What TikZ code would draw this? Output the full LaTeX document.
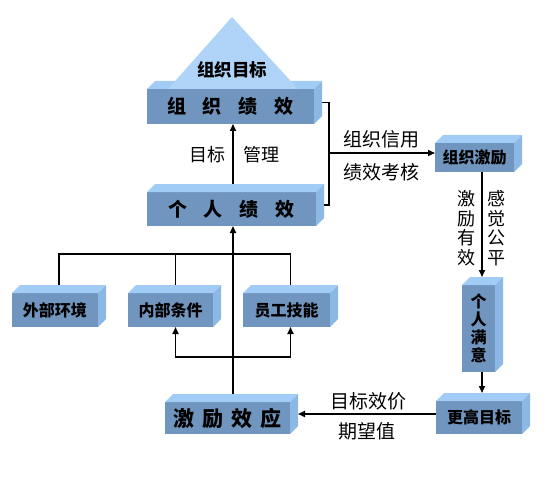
\documentclass[tikz,border=0pt]{standalone}
\usepackage{fontspec}
\setmainfont{Noto Sans CJK SC}
\usetikzlibrary{arrows.meta,backgrounds}
\definecolor{frontc}{RGB}{112,150,192}
\definecolor{topc}{RGB}{160,204,245}
\definecolor{sidec}{RGB}{140,184,230}
\definecolor{tric}{RGB}{176,212,248}
\newcommand\cubebox[7][]{%
  \node[front,#1,minimum width={#5-#3},minimum height={#6-#4}] (#2) at ({(#3+#5)/2},{(#4+#6)/2}) {#7};
  \fill[topc] (#2.north west) -- ++(8pt,8pt) -- ([shift={(8pt,8pt)}]#2.north east) -- (#2.north east) -- cycle;
  \fill[sidec] (#2.north east) -- ([shift={(8pt,8pt)}]#2.north east) -- ([shift={(8pt,8pt)}]#2.south east) -- (#2.south east) -- cycle;
}
\begin{document}
\begin{tikzpicture}[x=1pt,y=-1pt,
  front/.style={fill=frontc,inner sep=0pt,outer sep=0pt,font=\bfseries\fontsize{16}{18}\selectfont},
  bigtxt/.style={font=\bfseries\fontsize{19}{22}\selectfont},
  conn/.style={line width=1.6pt,black},
  arr/.style={conn,-{Triangle[length=7pt,width=6pt]}},
  lbl/.style={font=\fontsize{19}{20}\selectfont,inner sep=0pt},
  vlbl/.style={font=\fontsize{18}{19.5}\selectfont,inner sep=0pt,align=center}]
\useasboundingbox (0,0) rectangle (549,500);

% boxes
\cubebox[bigtxt]{zz}{147}{89}{314}{124}{组\hspace{17pt}织\hspace{17pt}绩\hspace{17pt}效}
\fill[tric] (232,17) -- (168,89) -- (298,89) -- cycle;
\node[font=\bfseries\fontsize{17.5}{20}\selectfont,inner sep=0pt] (zm) at (232,70) {组织目标};
\cubebox[bigtxt]{gr}{147}{192}{316}{226}{个\hspace{17pt}人\hspace{17pt}绩\hspace{17pt}效}
\cubebox{zj}{435}{143}{514}{172}{组织激励}
\cubebox[align=center]{gm}{462}{285}{495}{372}{个\\人\\满\\意}
\cubebox{gg}{436}{401}{522}{434}{更高目标}
\cubebox[font=\bfseries\fontsize{21}{24}\selectfont]{jl}{165}{402}{290}{434}{激\hspace{8pt}励\hspace{8pt}效\hspace{8pt}应}
\cubebox{wb}{12}{293}{98}{327}{外部环境}
\cubebox{nb}{128}{293}{213}{327}{内部条件}
\cubebox{yg}{243}{293}{330}{327}{员工技能}

% labels
\node[lbl,font=\fontsize{18}{20}\selectfont] at (207,155) {目标};
\node[lbl,font=\fontsize{18}{20}\selectfont] at (261,155) {管理};
\node[lbl] at (381,139) {组织信用};
\node[lbl] at (381,172) {绩效考核};
\node[vlbl] at (466,228) {激\\励\\有\\效};
\node[vlbl] at (496,228) {感\\觉\\公\\平};
\node[lbl] at (368,401) {目标效价};
\node[lbl] at (367,431) {期望值};

% connectors
\begin{pgfonlayer}{background}
\coordinate (cx) at (233,0);
\coordinate (rx) at (482,0);
\coordinate (jn) at (329,153);
\coordinate (hl) at (233,254);
\coordinate (bl) at (233,357);
\coordinate (gmt) at ([yshift=8pt]gm.north);
\coordinate (ggt) at ([yshift=8pt]gg.north);
\coordinate (ja) at ([shift={(8pt,4pt)}]jl.east);
\coordinate (nbt) at ([xshift=5pt]nb.north);
\coordinate (nbb) at ([xshift=5pt]nb.south);
\coordinate (ygb) at ([xshift=4pt]yg.south);
\draw[arr] (gr.north -| cx) -- (zz.south -| cx);
\draw[arr] (jl.north -| cx) -- (gr.south -| cx);
\draw[conn] ([yshift=4pt]zz.east) -| (jn) |- ([yshift=4pt]gr.east);
\draw[arr] (jn) -- (zj.west |- jn);
\draw[arr] (zj.south -| rx) -- (rx |- gmt);
\draw[arr] (gm.south -| rx) -- (rx |- ggt);
\draw[arr] (gg.west |- ja) -- (ja);
\draw[conn] ([xshift=4pt]wb.north) |- (hl) -| ([xshift=4pt]yg.north);
\draw[conn] (nbt) -- (nbt |- hl);
\draw[arr] (bl) -| (nbb);
\draw[arr] (bl) -| (ygb);
\end{pgfonlayer}
\end{tikzpicture}
\end{document}
